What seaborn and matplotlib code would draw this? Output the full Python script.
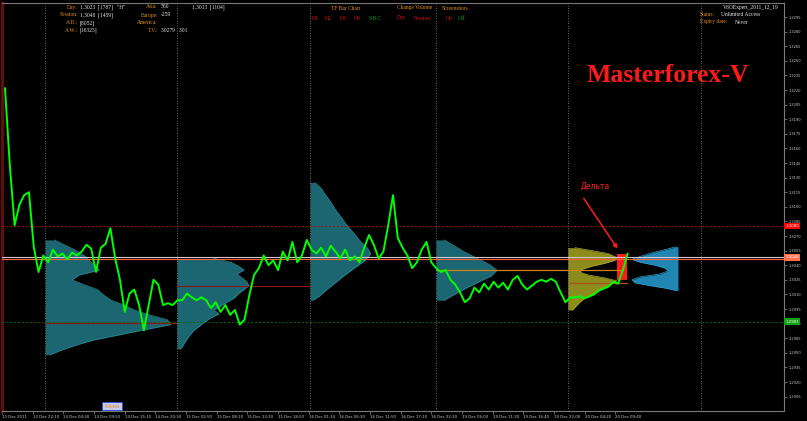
import numpy as np
import matplotlib
matplotlib.use("Agg")
import matplotlib.pyplot as plt
import seaborn as sns

# EURUSD M5 close, one value every 10 bars
path_step = 10
path_price = [
    1.3222, 1.3143, 1.3081, 1.3102, 1.3112, 1.3115, 1.3059, 1.3033, 1.3050, 1.3043,
    1.3056, 1.3049, 1.3052, 1.3046, 1.3053, 1.3050, 1.3054, 1.3061, 1.3057, 1.3033,
    1.3058, 1.3062, 1.3078, 1.3047, 1.3025, 1.2992, 1.3011, 1.3015, 1.2999, 1.2973,
    1.2999, 1.3025, 1.3020, 1.2999, 1.3001, 1.2999, 1.3004, 1.3004, 1.3011, 1.3007,
    1.3004, 1.3007, 1.3004, 1.2996, 1.3002, 1.2992, 1.2999, 1.2989, 1.2994, 1.2979,
    1.2984, 1.3009, 1.3030, 1.3037, 1.3050, 1.3040, 1.3045, 1.3035, 1.3054, 1.3045,
    1.3064, 1.3043, 1.3050, 1.3066, 1.3056, 1.3052, 1.3058, 1.3049, 1.3060, 1.3054,
    1.3047, 1.3056, 1.3045, 1.3049, 1.3043, 1.3058, 1.3071, 1.3061, 1.3047, 1.3054,
    1.3081, 1.3112, 1.3068, 1.3058, 1.3050, 1.3037, 1.3043, 1.3056, 1.3064, 1.3043,
    1.3037, 1.3033, 1.3035, 1.3025, 1.3020, 1.3012, 1.3002, 1.3006, 1.3017, 1.3012,
    1.3021, 1.3015, 1.3023, 1.3017, 1.3022, 1.3015, 1.3025, 1.3029, 1.3020, 1.3015,
    1.3019, 1.3023, 1.3025, 1.3023, 1.3026, 1.3023, 1.3012, 1.3002, 1.3007, 1.3007,
    1.3008, 1.3006, 1.3008, 1.3010, 1.3014, 1.3016, 1.3018, 1.3023, 1.3021, 1.3035,
    1.3052,
]

tick_times = [
    "13 Dec 2011", "13 Dec 22:10", "14 Dec 04:30", "14 Dec 09:50", "14 Dec 15:10",
    "14 Dec 20:30", "15 Dec 02:50", "15 Dec 08:10", "15 Dec 13:30", "15 Dec 18:50",
    "16 Dec 01:10", "16 Dec 06:30", "16 Dec 11:50", "16 Dec 17:10", "16 Dec 22:30",
    "19 Dec 06:00", "19 Dec 11:20", "19 Dec 16:40", "19 Dec 22:00", "20 Dec 04:20",
    "20 Dec 09:40",
]
bars_per_label = 64

# bar index where each trading day starts
day_start = [84, 359, 637, 900, 1175, 1453]

# daily volume profiles (price level -> width in bars)
p1_levels = [1.3066, 1.3061, 1.3056, 1.3050, 1.3045, 1.3040, 1.3035, 1.3030, 1.3025, 1.3020,
             1.3015, 1.3009, 1.3004, 1.2999, 1.2994, 1.2989, 1.2984, 1.2979, 1.2973, 1.2968,
             1.2963, 1.2958, 1.2953, 1.2948]
p1_widths = [19, 40, 61, 81, 92, 102, 113, 71, 56, 81, 109, 123, 138, 165, 186, 217, 255, 262,
             200, 150, 100, 65, 35, 10]

p2_levels = [1.3047, 1.3043, 1.3039, 1.3035, 1.3031, 1.3027, 1.3023, 1.3019, 1.3015, 1.3011,
             1.3006, 1.3002, 1.2998, 1.2994, 1.2990, 1.2986, 1.2981, 1.2977, 1.2973, 1.2967,
             1.2961, 1.2954]
p2_widths = [77, 113, 129, 140, 125, 136, 146, 150, 140, 129, 119, 104, 92, 77, 88, 71, 56, 46,
             35, 25, 17, 8]

p3_levels = [1.3125, 1.3119, 1.3113, 1.3107, 1.3101, 1.3095, 1.3088, 1.3082, 1.3076, 1.3070,
             1.3064, 1.3058, 1.3052, 1.3045, 1.3039, 1.3033, 1.3027, 1.3021, 1.3015, 1.3008,
             1.3004]
p3_widths = [10, 23, 31, 40, 48, 56, 67, 75, 86, 96, 106, 119, 127, 115, 98, 81, 65, 50, 35, 19, 6]

p4_levels = [1.3066, 1.3060, 1.3054, 1.3047, 1.3041, 1.3035, 1.3029, 1.3023, 1.3017, 1.3010,
             1.3004]
p4_widths = [17, 38, 58, 86, 111, 127, 115, 90, 65, 38, 17]

p5_levels = [1.3058, 1.3055, 1.3052, 1.3048, 1.3045, 1.3042, 1.3039, 1.3036, 1.3033, 1.3030,
             1.3027, 1.3024, 1.3021, 1.3018, 1.3015, 1.3010, 1.3006, 1.3002, 1.2998, 1.2994]
p5_widths = [15, 50, 84, 102, 98, 77, 50, 31, 25, 42, 77, 102, 92, 77, 63, 50, 35, 25, 17, 10]

# forecast profile, drawn leftwards from its right edge
pf_levels = [1.3059, 1.3056, 1.3053, 1.3049, 1.3046, 1.3043, 1.3040, 1.3037, 1.3034, 1.3031,
             1.3028, 1.3025, 1.3022, 1.3019, 1.3016, 1.3014]
pf_widths = [4, 27, 52, 79, 96, 79, 48, 27, 21, 38, 79, 96, 90, 58, 21, 4]
pf_right = 1405

# delta bar
delta_bars = [1278, 1299]
delta_prices = [1.3025, 1.3051]

level_red = 1.3080
level_bid = 1.3048
level_ask = 1.3046
level_green = 1.2982

sns.set_theme(style="dark", rc={"axes.facecolor": "black", "figure.facecolor": "black"})
plt.rcParams['font.family'] = ['DejaVu Sans']

fig = plt.figure(figsize=(8.07, 4.21), dpi=100)
ax = fig.add_axes([1.65 / 807, 1 - 411 / 421, (784 - 1.65) / 807, (411 - 3) / 421])
ax.set_facecolor("black")
ax.set_xlim(-7, 1626.3)
ax.set_ylim(1.289021, 1.330939)
ax.grid(False)


def profile(levels, widths, x0, color, edge, leftward=False):
    lv = np.array(levels)
    w = np.array(widths)
    o = np.argsort(lv)
    lv, w = lv[o], w[o]
    if leftward:
        ax.fill_betweenx(lv, x0 - w, x0, color=color, lw=0, zorder=2)
        ax.plot(x0 - w, lv, color=edge, lw=0.5, zorder=2)
    else:
        ax.fill_betweenx(lv, x0, x0 + w, color=color, lw=0, zorder=2)
        ax.plot(x0 + w, lv, color=edge, lw=0.5, zorder=2)


teal = "#1b6670"
teal_edge = "#2a8590"
profile(p1_levels, p1_widths, day_start[0], teal, teal_edge)
profile(p2_levels, p2_widths, day_start[1], teal, teal_edge)
profile(p3_levels, p3_widths, day_start[2], teal, teal_edge)
profile(p4_levels, p4_widths, day_start[3], teal, teal_edge)
profile(p5_levels, p5_widths, day_start[4], "#8c8c1c", "#a8a828")
profile(pf_levels, pf_widths, pf_right, "#2085b2", "#2c9ccc", leftward=True)

ax.bar((delta_bars[0] + delta_bars[1]) / 2, delta_prices[1] - delta_prices[0],
       width=delta_bars[1] - delta_bars[0], bottom=delta_prices[0],
       color="#ff1a1a", lw=0, zorder=3)

# day separators
for d in day_start:
    ax.axvline(d, color="#8a8a8a", lw=0.6, ls=(0, (1, 2)), zorder=4)

# horizontal levels
ax.axhline(level_red, color="#a01010", lw=0.7, ls=(0, (2, 2)), zorder=3)
ax.axhline(level_green, color="#0a6a0a", lw=0.7, ls=(0, (2, 2)), zorder=3)
ax.axhline(level_bid, color="#d8c8c8", lw=0.8, zorder=5)
ax.axhline(level_ask, color="#ff6040", lw=0.8, zorder=5)

# point-of-control lines
ax.plot([day_start[0], day_start[1]], [1.2981, 1.2981], color="#8b1414", lw=0.8, zorder=3)
ax.plot([day_start[1], day_start[2]], [1.3019, 1.3019], color="#8b1414", lw=0.8, zorder=3)
ax.plot([day_start[3], 1290], [1.3035, 1.3035], color="#d08018", lw=0.9, zorder=3)
ax.plot([day_start[4], 1299], [1.3022, 1.3022], color="#a85418", lw=0.9, zorder=3)

bars = np.arange(len(path_price)) * path_step
sns.lineplot(x=bars, y=path_price, ax=ax, color="#00ff00", lw=1.4,
             estimator=None, sort=False, zorder=6)

ax.annotate("", xy=(1282, 1.30546), xytext=(1205, 1.31111),
            arrowprops=dict(arrowstyle='-|>', color="#ff1a1a", lw=1.1, mutation_scale=6),
            zorder=7)
ax.text(0.759, 0.551, "Дельта", transform=ax.transAxes, color="#ff2020",
        fontsize=5.5, ha='center', va='center')
ax.text(0.851, 0.8235, "Masterforex-V", transform=ax.transAxes, color="#ff1a1a",
        fontsize=18.5, fontweight='bold', family='Liberation Serif',
        ha='center', va='center')

# axes
price_ticks = np.round(np.arange(1.2905, 1.32951, 0.0015), 4)
ax.yaxis.tick_right()
ax.set_yticks(price_ticks)
ax.set_yticklabels([f"{v:.4f}" for v in price_ticks])
ax.tick_params(axis='y', right=True, left=False, labelright=True, labelleft=False,
               colors="#8a8a8a", labelcolor="#c8c8c8", labelsize=2.6,
               length=2, width=0.5, pad=1, direction='out')
tick_pos = np.arange(len(tick_times)) * bars_per_label - 6
ax.set_xticks(tick_pos)
ax.set_xticklabels(tick_times, ha='left')
ax.tick_params(axis='x', bottom=True, colors="#8a8a8a", labelcolor="#c8c8c8",
               labelsize=2.8, length=2, width=0.5, pad=1, direction='out')
ax.set_xlabel("")
ax.set_ylabel("")

for s in ['top', 'right', 'bottom']:
    ax.spines[s].set_visible(True)
    ax.spines[s].set_color("#7a7a7a")
    ax.spines[s].set_linewidth(0.8)
ax.spines['left'].set_color("#5a1010")
ax.spines['left'].set_linewidth(2.5)

# price boxes on the right scale
for val, txt, fc in [(level_red, "1.3080", "#ff0000"), (level_bid, "1.3048", "#ff7050"),
                     (level_green, "1.2981", "#10a010")]:
    ax.text(1.002, val, txt, transform=ax.get_yaxis_transform(), ha='left', va='center',
            fontsize=2.8, color="white", zorder=8, clip_on=False,
            bbox=dict(boxstyle='square,pad=0.3', fc=fc, ec='none'))

# indicator header
ORANGE = "#e0901e"
WHITE = "#e6e6e6"
RED = "#e01414"
GREEN = "#14a014"
serif = dict(family='Liberation Serif', fontsize=4, va='center')


def t(x, y, s, c, ha='left'):
    fig.text(x / 807, 1 - y / 421, s, color=c, ha=ha, **serif)


t(78, 7, "Day:", ORANGE, 'right'); t(80, 7, '1.3023  [1787]   "H"', WHITE)
t(78, 15, "Session:", ORANGE, 'right'); t(80, 15, "1.3048  [1459]", WHITE)
t(78, 23, "A.D.:", ORANGE, 'right'); t(80, 23, "[8052]", WHITE)
t(78, 30, "A.W.:", ORANGE, 'right'); t(80, 30, "[16325]", WHITE)
t(158, 7, "Asia:", ORANGE, 'right'); t(161, 7, "560", WHITE)
t(158, 15, "Europe:", ORANGE, 'right'); t(161, 15, "-259", WHITE)
t(158, 23, "America:", ORANGE, 'right')
t(158, 30, "T.V.:", ORANGE, 'right'); t(161, 30, "30279   301", WHITE)
t(192, 7, "1.3013  [1104]", WHITE)
t(331, 8, "TF Bar Chart", ORANGE)
t(312, 18, "H1", RED); t(325, 18, "H2", RED); t(340, 18, "H3", RED); t(354, 18, "H4", RED)
t(369, 18, "S.B.C", GREEN)
t(397, 8, "Change Volume", ORANGE)
t(397, 18, "Day", RED); t(414, 18, "Session", RED)
t(442, 8, "Screenshots", ORANGE)
t(446, 18, "On", RED); t(458, 18, "Off", GREEN)
t(723, 7, "V8OExpert_2011_12_19", WHITE)
t(700, 14, "Status:", ORANGE); t(721, 14, "Unlimited Access", WHITE)
t(700, 22, "Expiry date:", ORANGE); t(735, 22, "Never", WHITE)

fig.text(112 / 807, 1 - 406 / 421, " Menu ", color=ORANGE, fontsize=4.5, ha='center',
         va='center', family='Liberation Serif',
         bbox=dict(boxstyle='square,pad=0.2', fc="#c8c8f0", ec="#3050d0", lw=0.6))

fig.savefig("out.png", dpi=100, facecolor="black")
